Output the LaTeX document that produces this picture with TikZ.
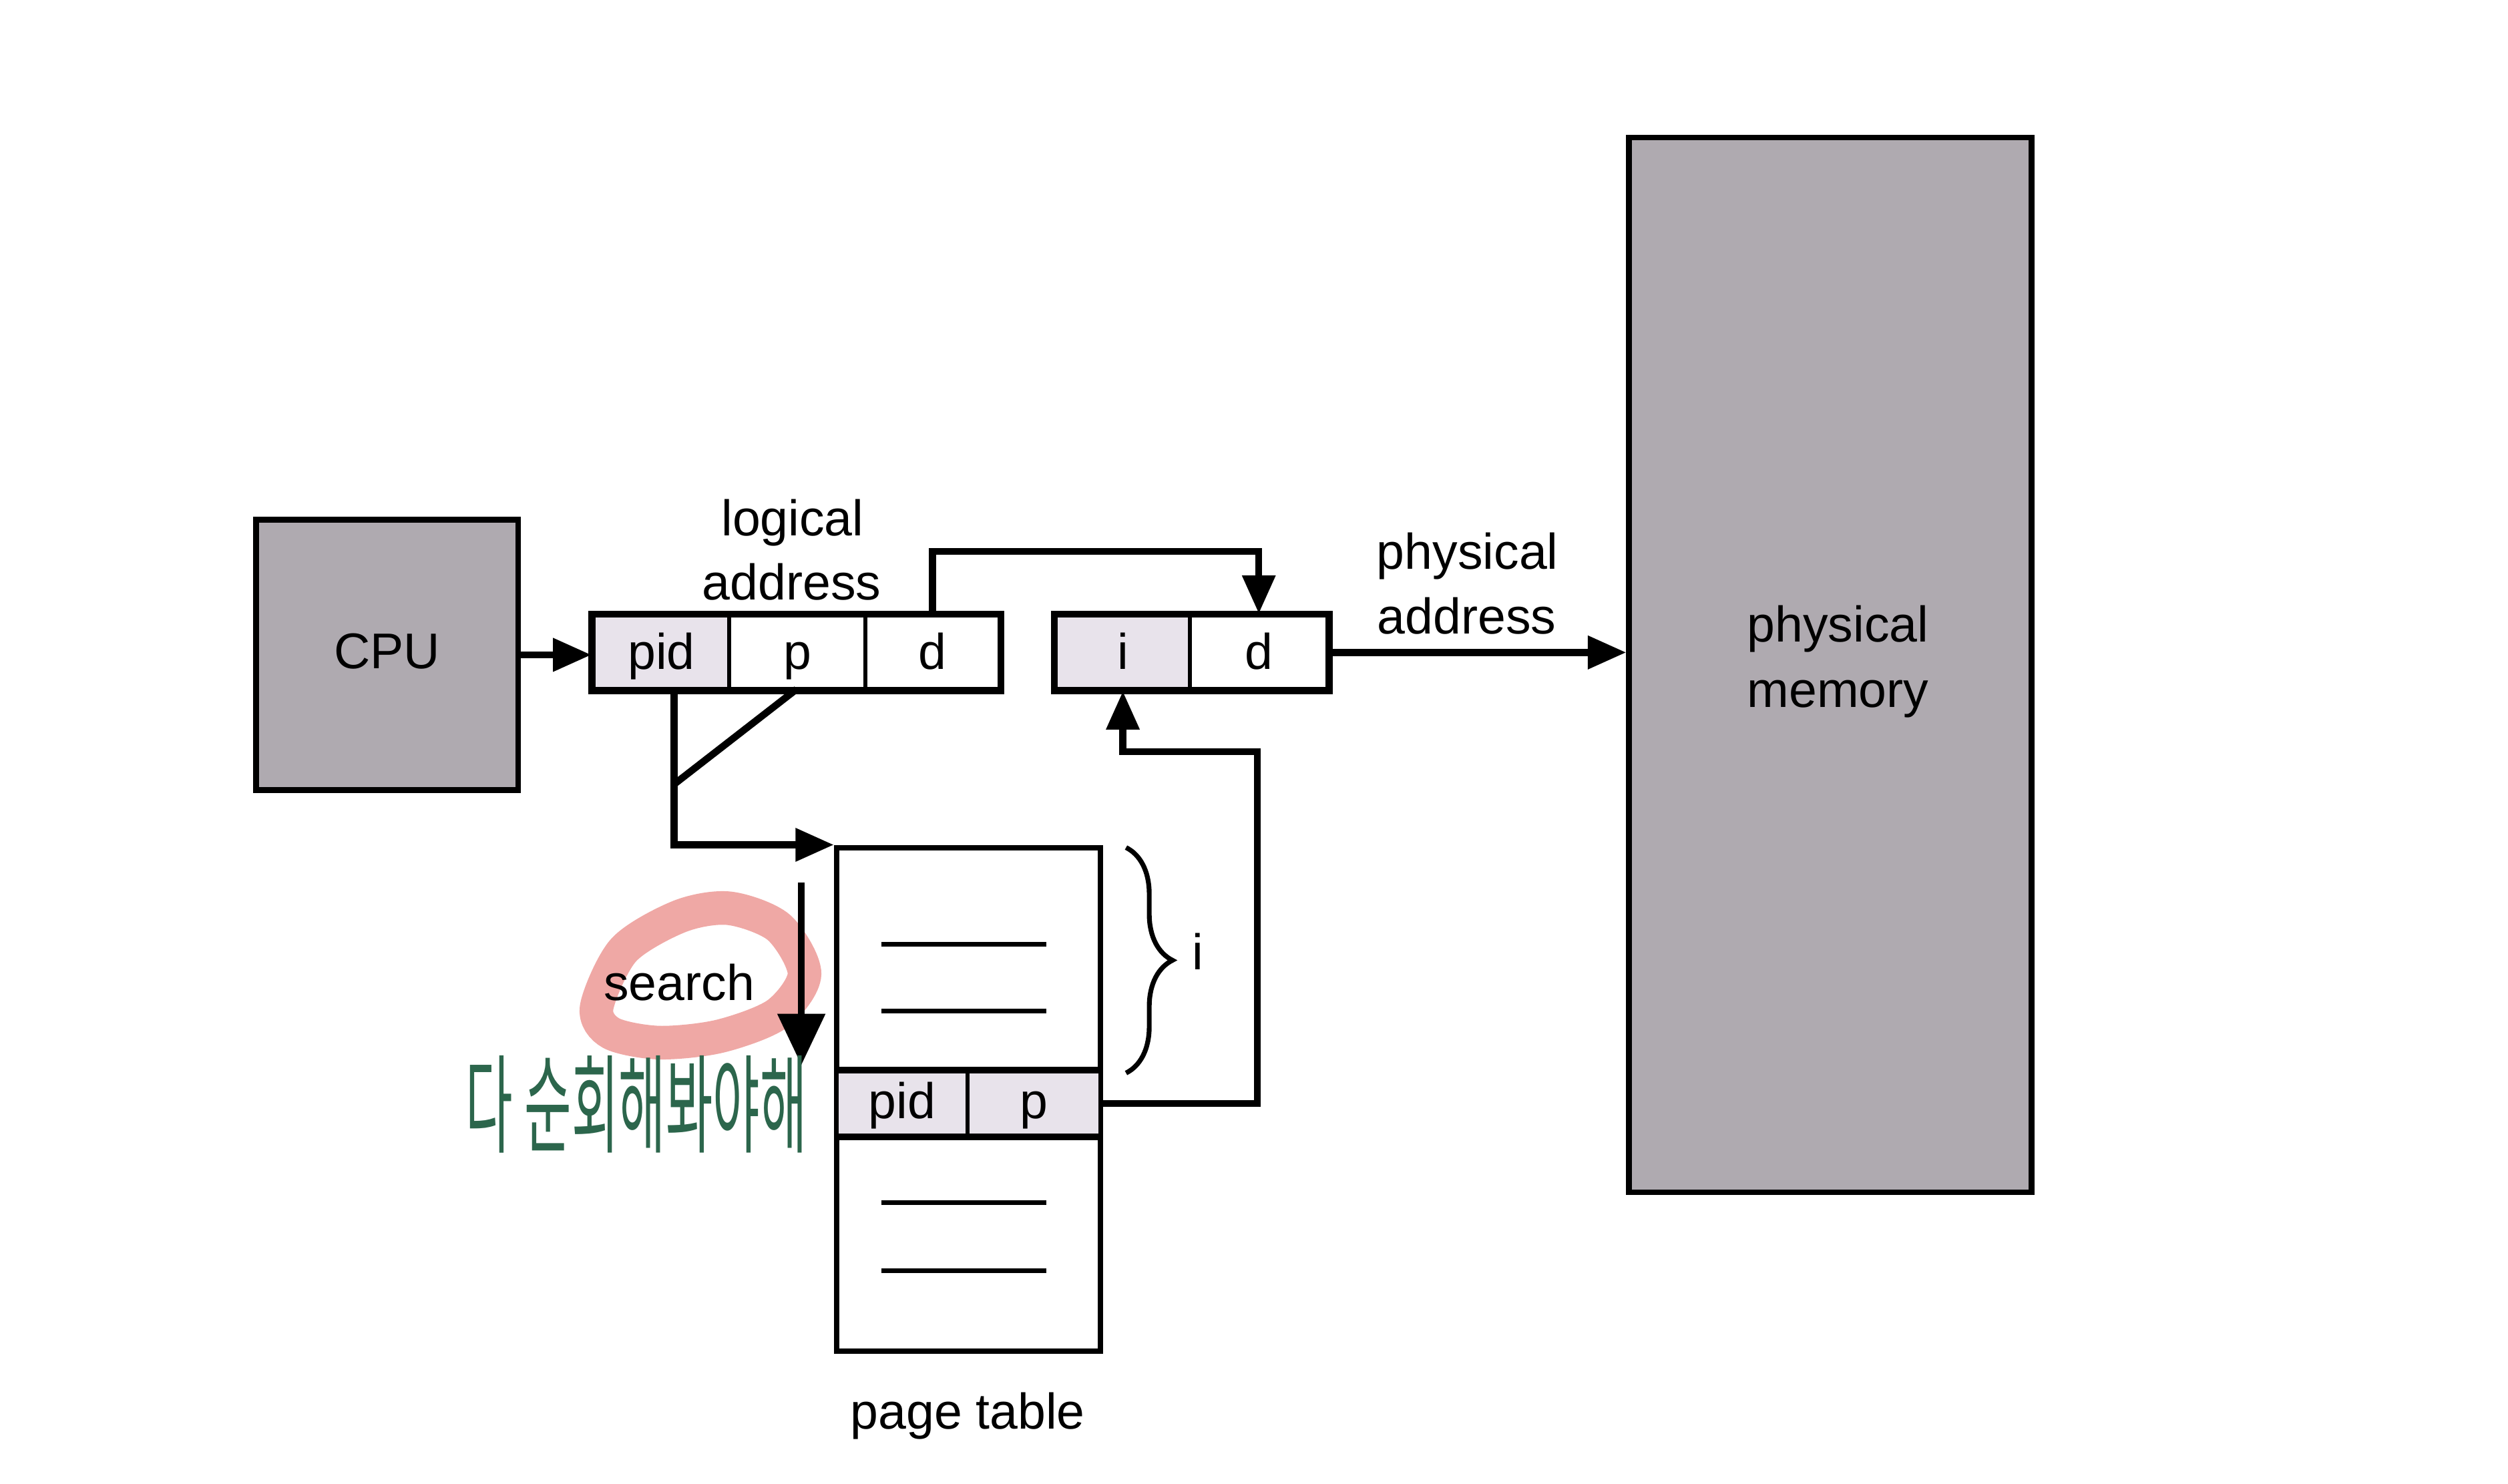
\documentclass[tikz,border=0pt]{standalone}
\usepackage{fontspec}
\setmainfont{Liberation Sans}
\newfontfamily\cjk{Noto Sans CJK KR}
\usetikzlibrary{arrows.meta,decorations.pathreplacing}
\definecolor{boxgray}{RGB}{175,170,176}
\definecolor{cellfill}{RGB}{232,227,235}
\definecolor{hlpink}{RGB}{239,168,165}
\definecolor{inkgreen}{RGB}{44,102,76}
\begin{document}
\begin{tikzpicture}[x=0.5pt,y=-0.5pt,
  font=\fontsize{15.7pt}{20pt}\selectfont,
  boxline/.style={line width=1.8pt},
  graybox/.style={draw,line width=1.8pt,fill=boxgray,inner sep=0pt},
  cell/.style={draw,line width=1.25pt,inner sep=0pt,minimum height=23pt,text height=12pt,text depth=1.5pt},
  rowcell/.style={draw,line width=1.25pt,inner sep=0pt,minimum height=20pt,text height=11pt,text depth=1.6pt,fill=cellfill},
  conn/.style={line width=2.2pt},
  arr/.style={-{Triangle[length=12pt,width=10pt]}},
  bigarr/.style={-{Triangle[length=16pt,width=14.5pt]}},
  lbl/.style={anchor=base,inner sep=0pt},
  rule/.style={line width=1.5pt}
]
\useasboundingbox (0,0) rectangle (1568,928);

% highlighter loop around "search"
\draw[hlpink,line width=10.5pt,line cap=round]
  plot[smooth cycle] coordinates {(373,630) (390,594) (425,573) (456,568) (487,580) (503,609) (486,634) (450,648) (412,652) (382,646)};

% CPU
\node[graybox,minimum width=82pt,minimum height=84.5pt,text height=8.5pt,text depth=0pt] (cpu) at (242,409.5) {CPU};

% physical memory
\node[graybox,minimum width=125.75pt,minimum height=329.75pt] (mem) at (1144.25,415.75) {};
\node[lbl] (mem1) at (1149,401.5) {physical};
\node[lbl] (mem2) at (1149,442.5) {memory};

% logical address
\node[cell,fill=cellfill,minimum width=42.5pt] (lpid) at (413.5,408) {pid};
\node[cell,minimum width=42.5pt] (lp) at (498.5,408) {p};
\node[cell,minimum width=42pt] (ld) at (583,408) {d};
\draw[boxline] (lpid.north west) rectangle (ld.south east);
\node[lbl] (la1) at (495.5,335) {logical};
\node[lbl] (la2) at (495,375) {address};

% physical address
\node[cell,fill=cellfill,minimum width=42pt] (pi) at (702,408) {i};
\node[cell,minimum width=43pt] (pd) at (787,408) {d};
\draw[boxline] (pi.north west) rectangle (pd.south east);
\node[lbl] (pa1) at (917.5,356) {physical};
\node[lbl] (pa2) at (917,396.5) {address};

% page table
\node[draw,line width=1.7pt,minimum width=82.5pt,minimum height=157.5pt,inner sep=0pt] (table) at (605.5,687.5) {};
\node[rowcell,minimum width=41pt] (tpid) at (564,690) {pid};
\node[rowcell,minimum width=41.5pt] (tp) at (646.5,690) {p};
\draw[line width=1.7pt] (tpid.north west) -- (tp.north east);
\draw[line width=1.7pt] (tpid.south west) -- (tp.south east);
\draw[rule] (551,590.4) -- (654,590.4);
\draw[rule] (551,632.3) -- (654,632.3);
\draw[rule] (551,752.1) -- (654,752.1);
\draw[rule] (551,794.5) -- (654,794.5);
\node[lbl] (ptl) at (605,893.4) {page table};

% brace
\draw[line width=1.5pt,decorate,decoration={brace,amplitude=14.5pt}] (704,530) -- (704,671);
\node[lbl] (ilbl) at (749,606.4) {i};

% connectors
\draw[conn,arr] (cpu.east) -- (cpu.east -| lpid.west);
\draw[conn,arr] (ld.north) -- ++(0,-39) -| (pd.north);
\draw[conn,arr] (pd.east) -- (pd.east -| mem.west);
\coordinate (pidout) at (421.5,431);
\coordinate (pout) at (498,431);
\coordinate (join) at (422,490);
\draw[conn,arr] (pidout) |- (table.north west);
\draw[conn] (pout) -- (join);
\coordinate (sstart) at (501,552);
\coordinate (send) at (501,666);
\draw[conn,bigarr] (sstart) -- (send);
\coordinate (r1) at (786,470);
\draw[conn,arr] (tp.east) -| (r1) -| (pi.south);

% labels
\node[lbl] (search) at (424.6,625.5) {search};
\node[inkgreen,inner sep=0pt] (note) at (398,690.5) {\scalebox{1}[2.1]{\cjk\fontsize{16pt}{16pt}\selectfont 다 순회해봐야해}};
\end{tikzpicture}
\end{document}
